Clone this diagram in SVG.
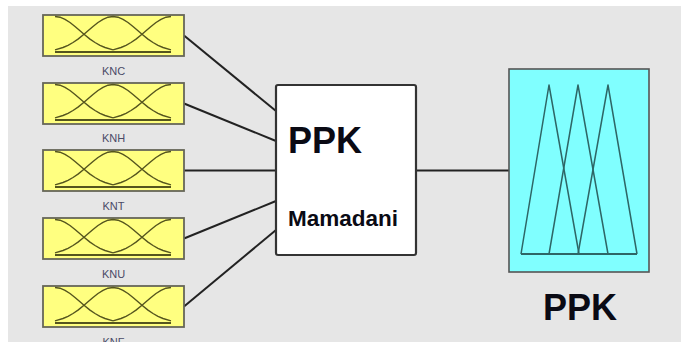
<svg xmlns="http://www.w3.org/2000/svg" xmlns:xlink="http://www.w3.org/1999/xlink" width="681" height="342" viewBox="0 0 681 342">
<style>
.inbox{fill:#ffff80;stroke:#666658;stroke-width:1.8}
.mf{fill:none;stroke:#55551e;stroke-width:1.4;stroke-linejoin:round}
.lbl{font-family:"Liberation Sans",Arial,sans-serif;font-size:11px;fill:#4a4a66;text-anchor:middle}
.conn{stroke:#222;stroke-width:2;fill:none}
.big{font-family:"Liberation Sans",Arial,sans-serif;font-weight:bold;fill:#0a0a14}
.tri{fill:none;stroke:#2e6666;stroke-width:1.5;stroke-linejoin:round}
</style>
<defs>
<g id="mfs">
<rect class="inbox" x="0" y="0" width="141" height="41"/>
<polyline class="mf" points="12,1.5 17,2.2 22,4.3 27,7.5 32,11.5 37,15.8 41,19.25 47,24.1 52,27.5 57,30.3 62,32.5 70,34.8"/>
<polyline class="mf" points="12,34.8 20,32.5 25,30.3 30,27.5 35,24.1 41,19.25 45,15.8 50,11.5 55,7.5 60,4.3 65,2.2 70,1.5 75,2.2 80,4.3 85,7.5 90,11.5 95,15.8 99,19.25 105,24.1 110,27.5 115,30.3 120,32.5 128,34.8"/>
<polyline class="mf" points="70,34.8 78,32.5 83,30.3 88,27.5 93,24.1 99,19.25 103,15.8 108,11.5 113,7.5 118,4.3 123,2.2 128,1.5"/>
<line x1="12" y1="37" x2="128" y2="37" stroke="#55551e" stroke-width="1.8"/>
</g>
</defs>
<rect x="0" y="0" width="681" height="342" fill="#ffffff"/>
<rect x="8" y="6" width="673" height="336" fill="#e6e6e6"/>
<g id="connectors">
<line class="conn" x1="184" y1="35.5" x2="276" y2="111"/>
<line class="conn" x1="184" y1="103.5" x2="276" y2="141"/>
<line class="conn" x1="184" y1="170.5" x2="276" y2="170.5"/>
<line class="conn" x1="184" y1="238.5" x2="276" y2="201"/>
<line class="conn" x1="184" y1="306.5" x2="276" y2="230"/>
<line class="conn" x1="416" y1="170.5" x2="509" y2="170.5"/>
</g>
<g id="KNC">
<use xlink:href="#mfs" href="#mfs" x="43" y="15"/>
<text class="lbl" x="113.5" y="75">KNC</text>
</g>
<g id="KNH">
<use xlink:href="#mfs" href="#mfs" x="43" y="83"/>
<text class="lbl" x="113.5" y="142">KNH</text>
</g>
<g id="KNT">
<use xlink:href="#mfs" href="#mfs" x="43" y="150"/>
<text class="lbl" x="113.5" y="210">KNT</text>
</g>
<g id="KNU">
<use xlink:href="#mfs" href="#mfs" x="43" y="218"/>
<text class="lbl" x="113.5" y="278">KNU</text>
</g>
<g id="KNF">
<use xlink:href="#mfs" href="#mfs" x="43" y="286"/>
<text class="lbl" x="113.5" y="346">KNF</text>
</g>
<g id="system">
<rect x="276" y="85" width="140" height="170" rx="2" fill="#ffffff" stroke="#333333" stroke-width="2.2"/>
<text class="big" x="288" y="153" font-size="36">PPK</text>
<text class="big" x="288" y="226" font-size="22.5">Mamadani</text>
</g>
<g id="PPK-out">
<rect x="509" y="69" width="140" height="203" fill="#80ffff" stroke="#555555" stroke-width="1.6"/>
<polyline class="tri" points="521,254 549,85 579,254"/>
<polyline class="tri" points="549,254 578,85 608,254"/>
<polyline class="tri" points="578,254 608,85 637,254"/>
<line x1="521" y1="254" x2="637" y2="254" stroke="#2e6666" stroke-width="1.8"/>
<text class="big" x="580" y="320" font-size="36" text-anchor="middle">PPK</text>
</g>
</svg>
